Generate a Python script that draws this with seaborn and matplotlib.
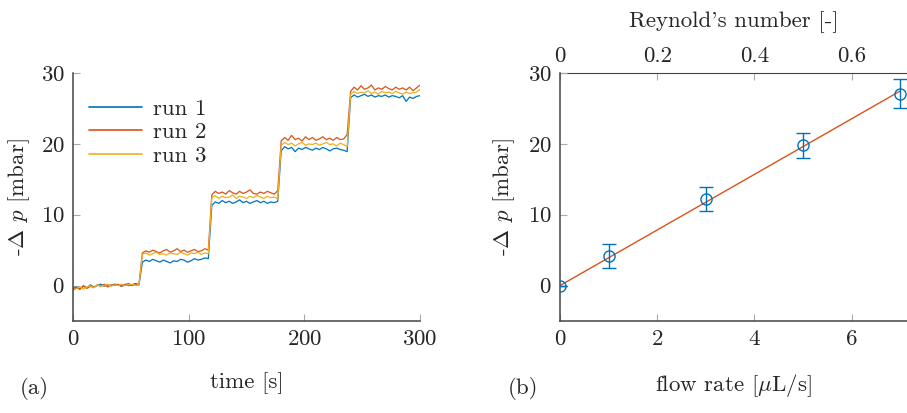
import numpy as np
import pandas as pd
import matplotlib
matplotlib.use('Agg')
import matplotlib.pyplot as plt
import seaborn as sns

# ---- data (a): pressure drop over time, sampled every 3 s ----
time_s = list(range(0, 301, 3))
run1 = [-0.4, -0.2, -0.5, -0.1, -0.3, 0.1, -0.2, 0.0, 0.2, -0.1, 0.1, 0.0, 0.2, 0.1, -0.1, 0.2, 0.0, 0.1, 0.3, 0.1,
        3.3, 3.6, 3.4, 3.7, 3.5, 3.3, 3.6, 3.4, 3.2, 3.5, 3.4, 3.7, 3.6, 3.3, 3.5, 3.8, 3.6, 3.7, 3.9, 3.8,
        11.3, 11.8, 11.6, 12.0, 11.7, 11.9, 11.6, 11.8, 12.1, 11.7, 11.9, 11.6, 11.8, 12.0, 11.7, 11.9, 11.6, 11.8, 11.7, 11.9,
        19.0, 19.6, 19.3, 19.5, 18.9, 19.4, 19.2, 19.5, 19.3, 19.1, 19.4, 19.2, 19.5, 19.3, 19.0, 19.3, 19.4, 19.2, 19.1, 18.9,
        26.5, 26.9, 26.6, 26.8, 27.0, 26.7, 26.9, 26.6, 26.8, 26.7, 26.9, 26.6, 26.8, 26.7, 26.5, 26.8, 26.0, 26.6, 26.4, 26.7,
        26.8]
run2 = [-0.6, -0.3, -0.5, 0.0, -0.4, -0.1, -0.3, 0.1, -0.1, 0.2, -0.2, 0.1, 0.0, 0.2, -0.1, 0.1, 0.3, 0.0, 0.2, 0.1,
        4.6, 4.9, 4.7, 5.0, 4.8, 4.6, 4.9, 5.1, 4.7, 4.9, 5.2, 4.8, 5.0, 4.7, 4.9, 5.1, 4.8, 4.9, 5.2, 5.0,
        12.8, 13.3, 13.0, 13.2, 12.9, 13.4, 13.1, 12.9, 13.3, 13.0, 13.2, 13.5, 13.0, 12.9, 13.2, 13.0, 13.3, 13.1, 12.9, 13.4,
        20.4, 20.9, 20.5, 21.2, 20.6, 20.8, 20.4, 21.0, 20.6, 20.9, 20.5, 20.7, 21.0, 20.6, 20.8, 20.5, 20.9, 20.6, 20.7, 21.3,
        27.4, 28.0, 27.6, 28.2, 27.7, 27.9, 28.3, 27.6, 27.9, 27.7, 28.1, 27.8, 27.6, 28.0, 27.7, 27.9, 27.6, 28.0, 27.5, 27.9,
        28.3]
run3 = [-0.7, -0.4, -0.2, -0.5, -0.2, 0.0, -0.3, 0.1, -0.1, 0.0, 0.2, -0.1, 0.1, 0.0, 0.2, 0.0, 0.1, 0.2, 0.0, 0.1,
        4.4, 4.6, 4.3, 4.5, 4.7, 4.4, 4.5, 4.3, 4.6, 4.5, 4.4, 4.7, 4.5, 4.3, 4.6, 4.5, 4.7, 4.4, 4.6, 4.5,
        12.4, 12.7, 12.3, 12.6, 12.4, 12.5, 12.8, 12.3, 12.6, 12.5, 12.3, 12.6, 12.4, 12.7, 12.5, 12.3, 12.6, 12.4, 12.5, 12.2,
        19.8, 20.2, 19.9, 20.1, 19.7, 20.0, 20.2, 19.8, 20.0, 19.9, 20.1, 19.8, 20.0, 20.2, 19.9, 20.0, 19.7, 20.1, 19.9, 19.6,
        27.0, 27.4, 27.1, 27.3, 27.2, 27.5, 27.1, 27.3, 27.0, 27.4, 27.2, 27.3, 27.1, 27.4, 27.2, 27.0, 27.3, 27.1, 27.2, 27.3,
        27.7]
run_names = ['run 1', 'run 2', 'run 3']

# ---- data (b): mean pressure drop vs flow rate ----
flow_rate = [0, 1, 3, 5, 7]
dp_mean = [0.0, 4.2, 12.2, 19.8, 27.1]
dp_err = [0.0, 1.7, 1.65, 1.75, 2.0]
re_per_flow = 0.1  # Reynold's number per uL/s

blue, orange, yellow = '#0072BD', '#D95319', '#EDB120'

sns.set_style('ticks')
plt.rcParams['font.family'] = ['cmr10', 'DejaVu Serif']
plt.rcParams['mathtext.fontset'] = 'cm'
plt.rcParams['axes.unicode_minus'] = False
plt.rcParams['axes.formatter.use_mathtext'] = True
fs = 16.5

fig = plt.figure(figsize=(9.07, 4.13), dpi=100)
ax1 = fig.add_axes([73 / 907, 92 / 413, 347 / 907, 248 / 413])
ax2 = fig.add_axes([560 / 907, 92 / 413, 347 / 907, 248 / 413])

df = pd.DataFrame({
    'time': time_s * 3,
    'dp': run1 + run2 + run3,
    'run': sum([[n] * len(time_s) for n in run_names], []),
})
sns.lineplot(data=df, x='time', y='dp', hue='run', palette=[blue, orange, yellow],
             estimator=None, linewidth=0.9, ax=ax1)
ax1.set_xlim(0, 300)
ax1.set_ylim(-5, 30)
ax1.set_xticks([0, 100, 200, 300])
ax1.set_yticks([0, 10, 20, 30])
ax1.set_xlabel('time [s]', fontsize=fs, labelpad=17)
ax1.set_ylabel(r'-$\Delta$ $p$ [mbar]', fontsize=fs, labelpad=6)
leg = ax1.legend(loc='upper left', bbox_to_anchor=(0.0, 0.96), frameon=False, fontsize=fs,
                 handlelength=2.3, handletextpad=0.5, labelspacing=0.15, borderaxespad=0.3)
for h in leg.legend_handles:
    h.set_linewidth(1.2)

# right panel: mean values with error bars and a fit through the origin
ax2.errorbar(flow_rate, dp_mean, yerr=dp_err, fmt='o', mfc='none', mec=blue, color=blue,
             markersize=8, capsize=5, elinewidth=1, mew=1, zorder=3)
fr = np.array(flow_rate, dtype=float)
slope = np.sum(fr * np.array(dp_mean)) / np.sum(fr ** 2)
fit_x = [min(flow_rate), max(flow_rate)]
sns.lineplot(x=fit_x, y=[slope * v for v in fit_x], color=orange, linewidth=1, ax=ax2)
ax2.set_xlim(0, 7.14)
ax2.set_ylim(-5, 30)
ax2.set_xticks([0, 2, 4, 6])
ax2.set_yticks([0, 10, 20, 30])
ax2.set_xlabel(r'flow rate [$\mu$L/s]', fontsize=fs, labelpad=17)
ax2.set_ylabel(r'-$\Delta$ $p$ [mbar]', fontsize=fs, labelpad=8)
top = ax2.secondary_xaxis('top', functions=(lambda f: f * re_per_flow, lambda r: r / re_per_flow))
top.set_xticks([0, 0.2, 0.4, 0.6])
top.set_xticklabels(['0', '0.2', '0.4', '0.6'])
top.set_xlabel("Reynold's number [-]", fontsize=fs, labelpad=14)
top.tick_params(direction='in', length=5, color='#aaaaaa', labelsize=fs, pad=5)
top.spines['top'].set_color('#444444')

for ax in (ax1, ax2):
    sns.despine(ax=ax)
    for s in ('left', 'bottom'):
        ax.spines[s].set_color('#444444')
        ax.spines[s].set_linewidth(1.1)
    ax.tick_params(direction='in', length=5, color='#aaaaaa', labelsize=fs, pad=6)

fig.text(20 / 907, 1 - 389 / 413, '(a)', fontsize=fs, va='center')
fig.text(508 / 907, 1 - 389 / 413, '(b)', fontsize=fs, va='center')

fig.savefig('out.png', dpi=100)
